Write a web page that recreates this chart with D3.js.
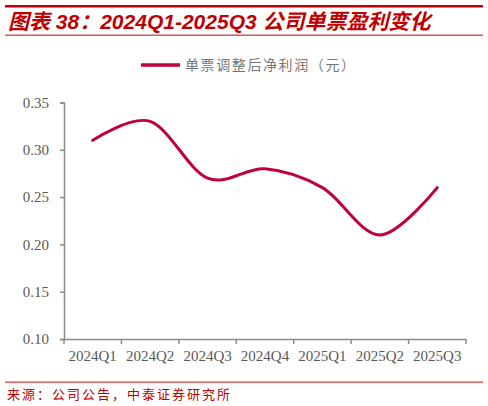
<!DOCTYPE html>
<html><head><meta charset="utf-8">
<script src="https://cdn.jsdelivr.net/npm/d3@7"></script>
<style>
html,body{margin:0;padding:0;background:#fff;}
svg{display:block;}
</style></head>
<body>
<svg id="chart" width="488" height="406"></svg>
<script>
const categories = ["2024Q1","2024Q2","2024Q3","2024Q4","2025Q1","2025Q2","2025Q3"];
const values = [0.31, 0.33, 0.27, 0.28, 0.26, 0.21, 0.26];
const yTicks = [0.10, 0.15, 0.20, 0.25, 0.30, 0.35];
const seriesName = "单票调整后净利润（元）";
const titleText = "图表 38：2024Q1-2025Q3 公司单票盈利变化";
const sourceText = "来源：公司公告，中泰证券研究所";

const svg = d3.select("#chart");
const W = 488;
const red = "#c00000";

// header lines and title
svg.append("rect").attr("x",5).attr("y",5).attr("width",W-10).attr("height",2.5).attr("fill",red);
svg.append("text").attr("x",8).attr("y",29)
  .attr("font-family","'Liberation Sans','Noto Sans CJK SC',sans-serif")
  .attr("font-size",21).attr("font-weight","bold").attr("font-style","italic")
  .attr("fill",red).text(titleText);
svg.append("rect").attr("x",5).attr("y",34.5).attr("width",W-10).attr("height",1.5).attr("fill","#d9595d");

// legend
svg.append("line").attr("x1",141).attr("x2",180).attr("y1",65).attr("y2",65)
  .attr("stroke","#c0003a").attr("stroke-width",3.5);
svg.append("text").attr("x",185).attr("y",70)
  .attr("font-family","'Noto Sans CJK SC',sans-serif").attr("font-size",14)
  .attr("fill","#777").attr("letter-spacing",1.6).text(seriesName);

// scales
const x = d3.scaleBand().domain(categories).range([64,466]).padding(0);
const y = d3.scaleLinear().domain([0.10,0.35]).range([339,102.5]);

const axisColor = "#8c8c8c";
const labelColor = "#595959";

const yAxis = svg.append("g").attr("transform","translate(64,0)")
  .call(d3.axisLeft(y).tickValues(yTicks).tickFormat(d3.format(".2f")).tickSize(4).tickPadding(11));
yAxis.select(".domain").attr("stroke",axisColor).attr("stroke-width",1.5);
yAxis.selectAll(".tick line").attr("stroke",axisColor).attr("stroke-width",1.5);
yAxis.selectAll(".tick text").attr("fill",labelColor)
  .attr("font-family","'Liberation Serif',serif").attr("font-size",15);

const xAxis = svg.append("g").attr("transform","translate(0,339)")
  .call(d3.axisBottom(x).tickSize(0).tickPadding(11));
xAxis.select(".domain").attr("stroke",axisColor).attr("stroke-width",1.5);
xAxis.selectAll(".tick text").attr("fill",labelColor)
  .attr("font-family","'Liberation Serif',serif").attr("font-size",15);
// tick marks at band boundaries
const bounds = categories.map(c => x(c)).concat([x(categories[categories.length-1]) + x.bandwidth()]);
svg.append("g").selectAll("line").data(bounds).join("line")
  .attr("x1",d=>d).attr("x2",d=>d).attr("y1",339).attr("y2",344)
  .attr("stroke",axisColor).attr("stroke-width",1.5);

// line
const line = d3.line()
  .x((d,i)=>x(categories[i]) + x.bandwidth()/2)
  .y(d=>y(d))
  .curve(d3.curveCardinal.tension(0));
svg.append("path").datum(values).attr("d",line)
  .attr("fill","none").attr("stroke","#c0003a").attr("stroke-width",3)
  .attr("stroke-linecap","round");

// footer
svg.append("rect").attr("x",5).attr("y",381.5).attr("width",W-10).attr("height",1.2).attr("fill","#e03030");
svg.append("text").attr("x",7).attr("y",399)
  .attr("font-family","'Noto Sans CJK SC',sans-serif").attr("font-size",13)
  .attr("fill",red).attr("letter-spacing",2).text(sourceText);
</script>
</body></html>
